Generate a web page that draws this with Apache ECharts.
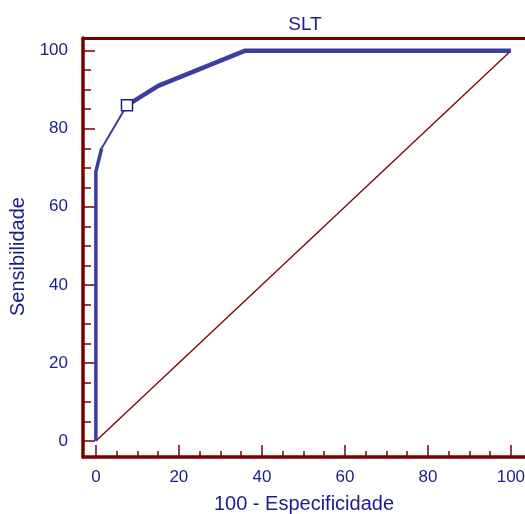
<!DOCTYPE html>
<html>
<head>
<meta charset="utf-8">
<script src="https://cdn.jsdelivr.net/npm/echarts@6/dist/echarts.min.js"></script>
<style>
  html, body { margin: 0; padding: 0; background: #fff; }
  #chart { width: 525px; height: 514px; }
</style>
</head>
<body>
<div id="chart"></div>
<script>
// ROC points (100 - specificity, sensitivity)
const fpr = [0, 0, 1.4, 7.5, 15, 36, 100];
const tpr = [0, 69, 75, 86, 91, 100, 100];
const cutoffPoint = [7.5, 86];
const diagonal = [[0, 0], [100, 100]];

const majorTicks = [0, 20, 40, 60, 80, 100];
const minorTicks = [5, 10, 15, 25, 30, 35, 45, 50, 55, 65, 70, 75, 85, 90, 95];

const red = '#7a0000';
const navy = '#1c1c8c';
const blue = '#3c3ca2';
const font = 'Liberation Sans, Arial, sans-serif';

const pts = fpr.map((x, i) => [x, tpr[i]]);

const chart = echarts.init(document.getElementById('chart'));

const xBase = { type: 'value', min: -3.1, max: 103.4, splitLine: { show: false } };
const yBase = { type: 'value', min: -4.1, max: 103.25, splitLine: { show: false } };

chart.setOption({
  animation: false,
  title: {
    text: 'SLT', left: 300, top: 10, textAlign: 'center',
    textStyle: { color: navy, fontSize: 19, fontWeight: 'normal', fontFamily: font }
  },
  grid: { left: 83, top: 38, right: 0, bottom: 57, containLabel: false, outerBoundsMode: 'none' },
  xAxis: [
    Object.assign({}, xBase, {
      position: 'bottom',
      axisLine: { show: true, onZero: false, lineStyle: { color: red, width: 3.5 } },
      axisTick: { inside: true, length: 12, customValues: majorTicks, lineStyle: { color: red, width: 1.5 } },
      axisLabel: { customValues: majorTicks, color: navy, fontSize: 17, fontFamily: font, margin: 12 },
      name: '100 - Especificidade', nameLocation: 'middle', nameGap: 37,
      nameTextStyle: { color: navy, fontSize: 20, fontFamily: font }
    }),
    Object.assign({}, xBase, {
      position: 'bottom',
      axisLine: { show: false, onZero: false },
      axisTick: { inside: true, length: 6, customValues: minorTicks, lineStyle: { color: red, width: 1.5 } },
      axisLabel: { show: false }
    }),
    Object.assign({}, xBase, {
      position: 'top',
      axisLine: { show: true, onZero: false, lineStyle: { color: red, width: 3 } },
      axisTick: { show: false },
      axisLabel: { show: false }
    })
  ],
  yAxis: [
    Object.assign({}, yBase, {
      position: 'left',
      axisLine: { show: true, onZero: false, lineStyle: { color: red, width: 3.5 } },
      axisTick: { inside: true, length: 12, customValues: majorTicks, lineStyle: { color: red, width: 1.5 } },
      axisLabel: { customValues: majorTicks, color: navy, fontSize: 17, fontFamily: font, margin: 15 },
      name: 'Sensibilidade', nameLocation: 'middle', nameGap: 51, nameRotate: 90,
      nameTextStyle: { color: navy, fontSize: 20, fontFamily: font, padding: [0, 18, 0, 0] }
    }),
    Object.assign({}, yBase, {
      position: 'left',
      axisLine: { show: false, onZero: false },
      axisTick: { inside: true, length: 8, customValues: minorTicks, lineStyle: { color: red, width: 1.5 } },
      axisLabel: { show: false }
    })
  ],
  series: [
    {
      type: 'line', data: diagonal, showSymbol: false,
      lineStyle: { color: red, width: 1.3 }
    },
    {
      type: 'line', data: pts.slice(0, 3), showSymbol: false,
      lineStyle: { color: blue, width: 3.5 }
    },
    {
      type: 'line', data: pts.slice(2, 4), showSymbol: false,
      lineStyle: { color: blue, width: 2 }
    },
    {
      type: 'line', data: pts.slice(3), showSymbol: false,
      lineStyle: { color: blue, width: 4.5 }
    },
    {
      type: 'scatter', data: [cutoffPoint], symbol: 'rect', symbolSize: 11,
      itemStyle: { color: '#fff', opacity: 1, borderColor: navy, borderWidth: 1.5 }, z: 5
    }
  ]
});
</script>
</body>
</html>
